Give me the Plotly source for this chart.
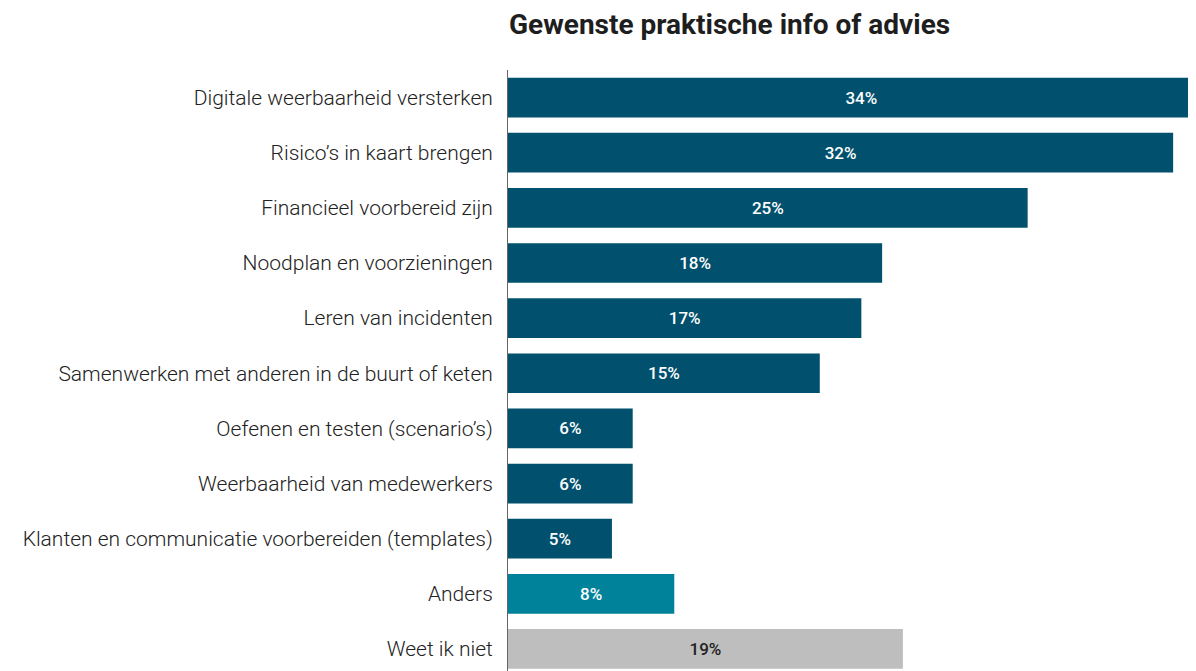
"""
Horizontal bar chart: gewenste praktische info of advies
"""

import plotly.graph_objects as go

# data
categories = [
    "Digitale weerbaarheid versterken",
    "Risico’s in kaart brengen",
    "Financieel voorbereid zijn",
    "Noodplan en voorzieningen",
    "Leren van incidenten",
    "Samenwerken met anderen in de buurt of keten",
    "Oefenen en testen (scenario’s)",
    "Weerbaarheid van medewerkers",
    "Klanten en communicatie voorbereiden (templates)",
    "Anders",
    "Weet ik niet",
]
values = [34, 32, 25, 18, 17, 15, 6, 6, 5, 8, 19]
bar_colors = ["#00506E"] * 9 + ["#00829A", "#BEBEBE"]
text_colors = ["#FFFFFF"] * 10 + ["#222222"]

# page body has an 8px margin: figure starts at (8, 8) in the window
fig = go.Figure()

fig.add_trace(
    go.Bar(
        x=values,
        y=categories,
        orientation='h',
        marker=dict(color=bar_colors, line=dict(width=0)),
        text=[f"{v}%" for v in values],
        textposition='inside',
        insidetextanchor='middle',
        textangle=0,
        textfont=dict(family="Roboto", size=17, weight=500, color=text_colors),
        hoverinfo='skip'
    )
)

fig.update_layout(
    title=dict(
        text="Gewenste praktische info of advies",
        x=501 / 1188, xanchor='left',
        y=1 - 16 / 663, yanchor='middle',
        font=dict(family="Roboto", size=28, weight=700, color="#1E1E1E")
    ),
    width=1188,
    height=663,
    margin=dict(l=500, r=0, t=62, b=0),
    plot_bgcolor='white',
    paper_bgcolor='white',
    bargap=0.28,
    showlegend=False,
)

fig.update_xaxes(
    range=[0, 33.1],
    visible=False,
    showgrid=False,
    zeroline=False
)

fig.update_yaxes(
    autorange=False,
    range=[10.4, -0.5],
    showgrid=False,
    zeroline=False,
    showline=True,
    linecolor="#666666",
    linewidth=1,
    ticks='',
    ticklabelstandoff=10,
    tickfont=dict(family="Roboto", size=21, weight=300, color="#222222")
)

fig.write_html("out.html")
